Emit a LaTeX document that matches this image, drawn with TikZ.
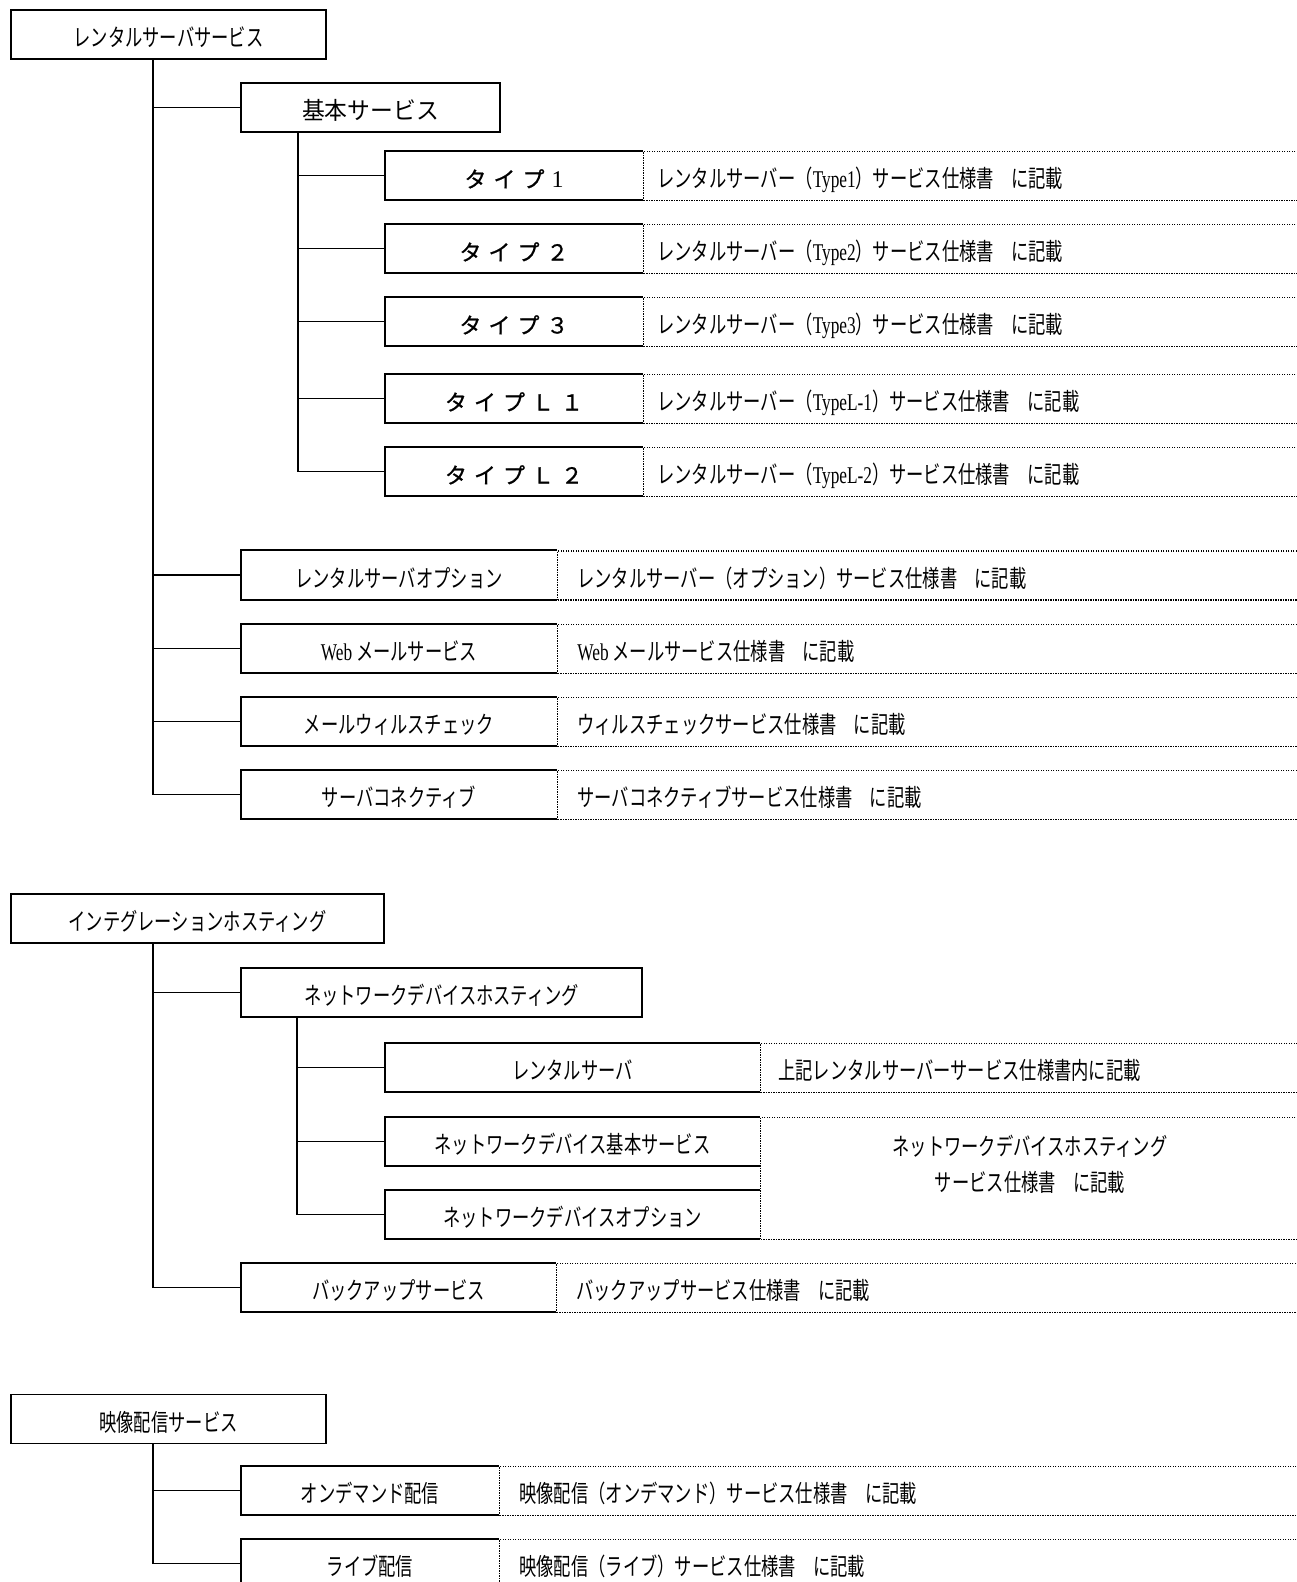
\documentclass[tikz,border=0pt]{standalone}
\usepackage{fontspec}
\usetikzlibrary{calc}
\newfontfamily\jp[FakeStretch=0.72]{Noto Sans CJK JP}
\newfontfamily\jpm[FakeStretch=0.95]{Noto Sans CJK JP}
\newfontfamily\jpw[FakeBold=0.8]{Noto Sans CJK JP}
\newfontfamily\lat[FakeStretch=0.72]{Liberation Serif}
\newfontfamily\latw{Liberation Serif}
\newcommand{\txt}{\fontsize{24}{36}\selectfont\jp}
\newcommand{\tyfont}{\fontsize{22}{28}\selectfont\jpw}
\newcommand{\webw}{{\lat Web}}
\newcommand{\tyw}[1]{{\lat Type#1}}
\newcommand{\gp}{\hspace{7pt}}
\tikzset{
  sline/.style={line width=1.8pt},
  conn/.style={line width=1.8pt},
  lowtext/.style={text height=24pt, text depth=0pt},
  boxn/.style={draw, line width=1.8pt, minimum height=49pt, inner sep=0pt, font=\txt, lowtext},
  openbox/.style={minimum height=49pt, inner sep=0pt, lowtext},
  cell/.style={draw, line width=1.2pt, dash pattern=on 1.2pt off 1.3pt, minimum height=49pt, minimum width=800pt, inner sep=0pt, anchor=north west},
  desc/.style={anchor=west, inner sep=0pt, font=\txt, lowtext},
}
% name, cx, cy, width, labelfont, label, desc, pad
\newcommand{\myrow}[8]{%
  \node[openbox, minimum width=#4pt, font=#5] (#1) at (#2,#3) {#6};
  \draw[sline] (#1.north east) -- (#1.north west) -- (#1.south west) -- (#1.south east);
  \node[cell] (#1c) at (#1.north east) {};
  \node[desc] (#1d) at ($(#1.east)+(#8,0)$) {#7};
}
\begin{document}
\begin{tikzpicture}[x=1pt,y=-1pt]
\useasboundingbox (0,0) rectangle (1297,1582);
\fill[white] (0,0) rectangle (1297,1582);
\clip (0,0) rectangle (1297,1582);

% ---------- section 1
\node[boxn, minimum width=315pt] (r1) at (168.5,34.5) {レンタルサーバサービス};
\node[boxn, minimum width=259pt, font=\fontsize{24}{30}\selectfont\jpm] (basic) at (370.5,107.5) {基本サービス};

\myrow{t1}{514}{175.5}{258}{\tyfont}{タ\gp イ\gp プ\gp{\latw\fontsize{24}{28}\selectfont 1}}{レンタルサーバー（\tyw{1}）サービス仕様書　に記載}{14}
\myrow{t2}{514}{248.5}{258}{\tyfont}{タ\gp イ\gp プ\gp ２}{レンタルサーバー（\tyw{2}）サービス仕様書　に記載}{14}
\myrow{t3}{514}{321.5}{258}{\tyfont}{タ\gp イ\gp プ\gp ３}{レンタルサーバー（\tyw{3}）サービス仕様書　に記載}{14}
\myrow{t4}{514}{398.5}{258}{\tyfont}{タ\gp イ\gp プ\gp Ｌ\gp １}{レンタルサーバー（\tyw{L-1}）サービス仕様書　に記載}{14}
\myrow{t5}{514}{471.5}{258}{\tyfont}{タ\gp イ\gp プ\gp Ｌ\gp ２}{レンタルサーバー（\tyw{L-2}）サービス仕様書　に記載}{14}

\myrow{o1}{399}{575}{316}{\txt}{レンタルサーバオプション}{レンタルサーバー（オプション）サービス仕様書　に記載}{20}
\myrow{o2}{399}{648.5}{316}{\txt}{\webw{} メールサービス}{\webw{} メールサービス仕様書　に記載}{20}
\myrow{o3}{399}{721.5}{316}{\txt}{メールウィルスチェック}{ウィルスチェックサービス仕様書　に記載}{20}
\myrow{o4}{399}{794.5}{316}{\txt}{サーバコネクティブ}{サーバコネクティブサービス仕様書　に記載}{20}

\coordinate (k1) at ($(r1.south west)+(143,0)$);
\draw[conn] (k1) |- (basic.west);
\foreach \n in {o1,o2,o3,o4} \draw[conn] (k1) |- (\n.west);
\coordinate (k2) at ($(basic.south west)+(58,0)$);
\foreach \n in {t1,t2,t3,t4,t5} \draw[conn] (k2) |- (\n.west);

% ---------- section 2
\node[boxn, minimum width=373pt] (r2) at (197.5,918.5) {インテグレーションホスティング};
\node[boxn, minimum width=401pt] (ndh) at (441.5,992.5) {ネットワークデバイスホスティング};
\myrow{s1}{572.5}{1067.5}{375}{\txt}{レンタルサーバ}{上記レンタルサーバーサービス仕様書内に記載}{18}
\node[openbox, minimum width=375pt, font=\txt] (s2) at (572.5,1141.5) {ネットワークデバイス基本サービス};
\draw[sline] (s2.north east) -- (s2.north west) -- (s2.south west) -- (s2.south east);
\node[openbox, minimum width=375pt, font=\txt] (s3) at (572.5,1214.5) {ネットワークデバイスオプション};
\draw[sline] (s3.north east) -- (s3.north west) -- (s3.south west) -- (s3.south east);
\node[cell, minimum height=122pt] (s23c) at (s2.north east) {};
\node[font=\txt, align=center, inner sep=0pt] (s23d) at (1030,1164) {ネットワークデバイスホスティング\\サービス仕様書　に記載};
\myrow{b1}{398.5}{1287.5}{315}{\txt}{バックアップサービス}{バックアップサービス仕様書　に記載}{20}

\coordinate (k3) at ($(r2.south west)+(143,0)$);
\draw[conn] (k3) |- (ndh.west);
\draw[conn] (k3) |- (b1.west);
\coordinate (k4) at ($(ndh.south west)+(57,0)$);
\foreach \n in {s1,s2,s3} \draw[conn] (k4) |- (\n.west);

% ---------- section 3
\node[boxn, minimum width=315pt] (r3) at (168.5,1419) {映像配信サービス};
\myrow{v1}{370}{1490.5}{258}{\txt}{オンデマンド配信}{映像配信（オンデマンド）サービス仕様書　に記載}{20}
\myrow{v2}{370}{1563.5}{258}{\txt}{ライブ配信}{映像配信（ライブ）サービス仕様書　に記載}{20}

\coordinate (k5) at ($(r3.south west)+(143,0)$);
\foreach \n in {v1,v2} \draw[conn] (k5) |- (\n.west);
\end{tikzpicture}
\end{document}
